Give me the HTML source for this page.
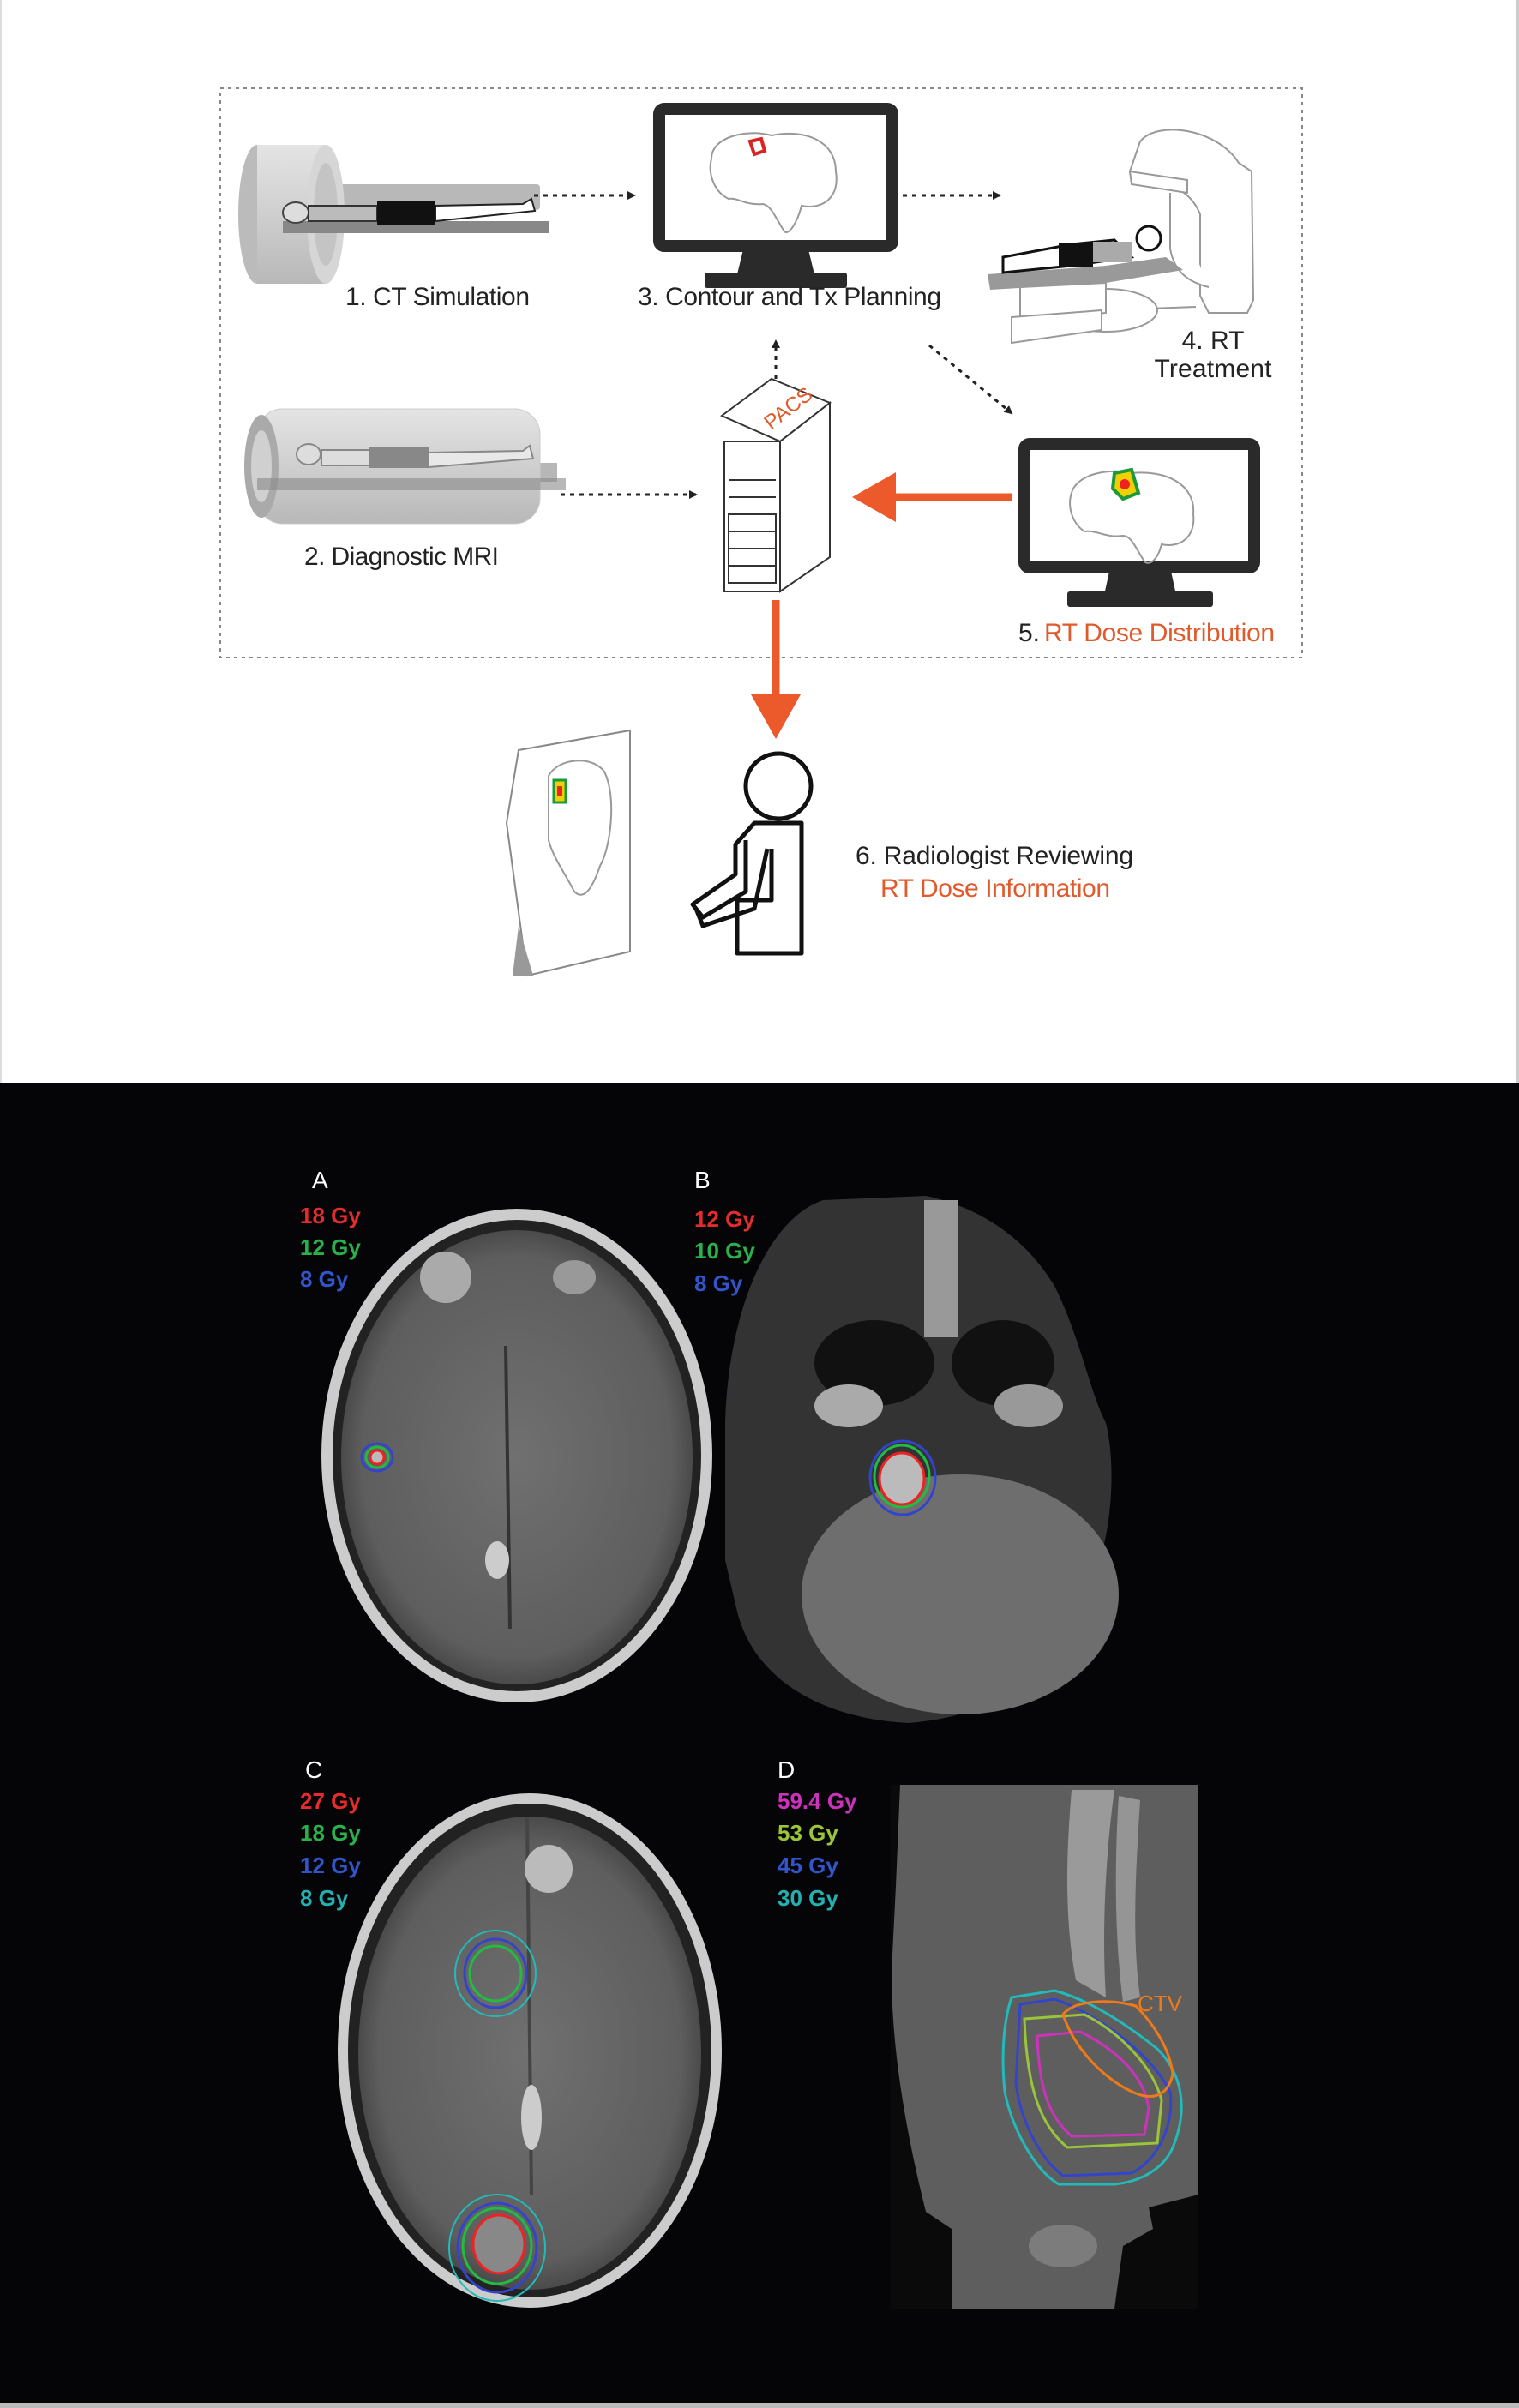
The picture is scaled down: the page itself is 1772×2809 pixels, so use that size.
<!DOCTYPE html>
<html><head><meta charset="utf-8"><style>
html,body{margin:0;padding:0;background:#fff}
svg{display:block}
text{font-family:"Liberation Sans Narrow","Liberation Sans",sans-serif}
</style></head><body>
<svg width="1772" height="2809" viewBox="0 0 1772 2809" xmlns="http://www.w3.org/2000/svg">
<defs>
<marker id="ah" markerWidth="10" markerHeight="10" refX="8" refY="5" orient="auto" markerUnits="userSpaceOnUse"><path d="M0,0 L20,5 L0,10 Z" fill="#222" transform="scale(0.5,1)"/></marker>
<radialGradient id="brain" cx="50%" cy="50%" r="55%"><stop offset="0" stop-color="#707070"/><stop offset="0.8" stop-color="#5e5e5e"/><stop offset="1" stop-color="#3a3a3a"/></radialGradient>
<linearGradient id="cyl" x1="0" y1="0" x2="0" y2="1"><stop offset="0" stop-color="#e4e4e4"/><stop offset="0.5" stop-color="#cfcfcf"/><stop offset="1" stop-color="#b8b8b8"/></linearGradient>
<linearGradient id="ct" x1="0" y1="0" x2="1" y2="0"><stop offset="0" stop-color="#5a5a5a"/><stop offset="0.5" stop-color="#9a9a9a"/><stop offset="1" stop-color="#5a5a5a"/></linearGradient>
</defs>
<rect width="1772" height="1263" fill="#fff"/>
<rect x="0" y="0" width="2" height="2809" fill="#ddd"/>
<rect x="1769" y="0" width="3" height="2809" fill="#ccc"/>

<rect x="257" y="103" width="1262" height="664" fill="none" stroke="#888" stroke-width="2" stroke-dasharray="4,5"/>

<!-- CT scanner -->
<rect x="300" y="215" width="330" height="30" rx="4" fill="#9a9a9a" opacity="0.7"/>
<ellipse cx="300" cy="250" rx="22" ry="81" fill="#bbb"/>
<rect x="300" y="169" width="80" height="162" fill="url(#cyl)"/>
<ellipse cx="380" cy="250" rx="22" ry="81" fill="#d6d6d6"/>
<ellipse cx="380" cy="250" rx="14" ry="60" fill="#c4c4c4"/>
<rect x="330" y="258" width="310" height="14" fill="#888"/>
<ellipse cx="345" cy="248" rx="15" ry="12" fill="#ddd" stroke="#444" stroke-width="2"/>
<rect x="360" y="240" width="80" height="18" fill="#bbb" stroke="#333" stroke-width="2"/>
<rect x="440" y="235" width="68" height="28" fill="#111"/>
<path d="M508,240 L610,238 L620,232 L624,246 L508,258 Z" fill="#fff" stroke="#222" stroke-width="2"/>
<text x="403" y="356" font-size="30" fill="#222" textLength="215">1. CT Simulation</text>

<line x1="623" y1="228" x2="740" y2="228" stroke="#222" stroke-width="3" stroke-dasharray="5,6" marker-end="url(#ah)"/>
<line x1="1053" y1="228" x2="1166" y2="228" stroke="#222" stroke-width="3" stroke-dasharray="5,6" marker-end="url(#ah)"/>
<line x1="654" y1="577" x2="812" y2="577" stroke="#222" stroke-width="3" stroke-dasharray="5,6" marker-end="url(#ah)"/>
<line x1="905" y1="475" x2="905" y2="398" stroke="#222" stroke-width="3" stroke-dasharray="5,6" marker-end="url(#ah)"/>
<line x1="1084" y1="403" x2="1180" y2="482" stroke="#222" stroke-width="3" stroke-dasharray="5,6" marker-end="url(#ah)"/>

<!-- Monitor 3 -->
<rect x="769" y="127" width="272" height="160" rx="6" fill="#fff" stroke="#2a2a2a" stroke-width="14"/>
<path d="M868,287 L942,287 L950,320 L860,320 Z" fill="#2a2a2a"/>
<rect x="822" y="318" width="166" height="18" rx="3" fill="#2a2a2a"/>
<path d="M830,185 C830,160 870,150 900,158 C940,150 975,165 975,200 C980,230 960,245 935,240 C930,260 920,275 915,270 C905,255 900,240 890,238 C870,240 860,230 850,232 C835,225 825,205 830,185 Z" fill="none" stroke="#999" stroke-width="2"/>
<path d="M875,165 L888,162 L892,176 L880,180 Z" fill="none" stroke="#d22" stroke-width="4"/>
<text x="744" y="356" font-size="30" fill="#222" textLength="354">3. Contour and Tx Planning</text>

<!-- Linac -->
<g fill="#fff" stroke="#999" stroke-width="2">
<path d="M1330,165 C1350,140 1420,150 1445,190 L1460,200 L1462,350 L1455,365 L1410,365 L1400,345 L1400,250 C1390,225 1370,215 1340,210 L1318,200 Z"/>
<path d="M1318,200 L1320,215 L1385,225 L1385,210 Z"/>
<path d="M1365,225 L1365,290 C1370,320 1390,330 1410,335"/>
<path d="M1335,348 L1340,360 L1395,358"/>
<ellipse cx="1290" cy="362" rx="60" ry="25"/>
<path d="M1190,335 L1290,330 L1290,365 L1190,375 Z"/>
<path d="M1180,370 L1285,362 L1285,385 L1180,400 Z"/>
</g>
<path d="M1152,320 L1290,310 L1360,300 L1380,315 L1290,330 L1155,338 Z" fill="#999"/>
<path d="M1170,300 L1250,285 L1300,280 L1320,300 L1250,310 L1170,318 Z" fill="#fff" stroke="#111" stroke-width="3"/>
<rect x="1235" y="284" width="40" height="28" fill="#111"/>
<rect x="1275" y="282" width="45" height="24" fill="#aaa"/>
<circle cx="1340" cy="278" r="14" fill="#fff" stroke="#111" stroke-width="3"/>
<text x="1415" y="407" font-size="30" fill="#222" text-anchor="middle">4. RT</text>
<text x="1415" y="440" font-size="30" fill="#222" text-anchor="middle" textLength="137">Treatment</text>

<!-- MRI -->
<rect x="300" y="540" width="350" height="22" fill="#999" opacity="0.7"/>
<rect x="300" y="477" width="330" height="134" rx="30" fill="url(#cyl)" stroke="#ccc"/>
<ellipse cx="305" cy="544" rx="20" ry="60" fill="#aaa"/>
<ellipse cx="305" cy="544" rx="12" ry="42" fill="#d0d0d0"/>
<ellipse cx="360" cy="530" rx="14" ry="12" fill="#ddd" stroke="#888" stroke-width="2"/>
<rect x="375" y="525" width="110" height="18" fill="#ddd" stroke="#888" stroke-width="2"/>
<rect x="430" y="522" width="70" height="24" fill="#888"/>
<path d="M500,528 L610,526 L618,520 L622,535 L500,545 Z" fill="#e8e8e8" stroke="#888" stroke-width="2"/>
<rect x="300" y="558" width="360" height="14" fill="#888" opacity="0.6"/>
<text x="355" y="659" font-size="30" fill="#222" textLength="227">2. Diagnostic MRI</text>

<!-- PACS -->
<g fill="#fff" stroke="#333" stroke-width="2">
<path d="M842,485 L900,442 L968,470 L910,515 Z"/>
<path d="M910,515 L968,470 L968,650 L910,690 Z"/>
<rect x="845" y="515" width="65" height="175"/>
<rect x="850" y="600" width="55" height="80"/>
<line x1="850" y1="560" x2="905" y2="560"/><line x1="850" y1="580" x2="905" y2="580"/>
<line x1="850" y1="620" x2="905" y2="620"/><line x1="850" y1="640" x2="905" y2="640"/><line x1="850" y1="660" x2="905" y2="660"/>
</g>
<text x="890" y="495" font-size="24" fill="#e05a2b" transform="rotate(-38 905 485)">PACS</text>

<line x1="1180" y1="580" x2="1030" y2="580" stroke="#ec5a2c" stroke-width="9"/>
<path d="M994,580 L1045,551 L1045,609 Z" fill="#ec5a2c"/>
<line x1="905" y1="700" x2="905" y2="820" stroke="#ec5a2c" stroke-width="9"/>
<path d="M905,862 L876,810 L934,810 Z" fill="#ec5a2c"/>

<!-- Monitor 5 -->
<rect x="1195" y="518" width="268" height="144" rx="6" fill="#fff" stroke="#2a2a2a" stroke-width="14"/>
<path d="M1295,662 L1365,662 L1372,694 L1288,694 Z" fill="#2a2a2a"/>
<rect x="1245" y="690" width="170" height="18" rx="3" fill="#2a2a2a"/>
<path d="M1250,575 C1255,555 1290,545 1320,552 C1360,548 1395,565 1392,600 C1395,625 1378,640 1355,635 C1350,655 1340,660 1335,655 C1325,640 1320,625 1310,625 C1290,628 1280,618 1265,620 C1250,610 1245,590 1250,575 Z" fill="none" stroke="#999" stroke-width="2"/>
<path d="M1300,552 L1320,548 L1328,575 L1310,582 L1298,570 Z" fill="#f0d000" stroke="#1a9a3a" stroke-width="4"/>
<circle cx="1312" cy="565" r="6" fill="#e22"/>
<text x="1188" y="748" font-size="30" fill="#222">5.</text>
<text x="1218" y="748" font-size="30" fill="#e05a2b" textLength="269">RT Dose Distribution</text>

<!-- sheet -->
<path d="M591,960 L605,875 L735,852 L735,1110 L615,1138 Z" fill="#fff" stroke="#888" stroke-width="2"/>
<path d="M605,1080 L622,1138 L598,1138 Z" fill="#999"/>
<path d="M640,905 C650,885 690,880 705,900 C720,930 712,990 700,1010 C690,1040 680,1050 670,1040 C660,1020 645,1000 640,980 Z" fill="none" stroke="#999" stroke-width="2"/>
<rect x="646" y="910" width="14" height="26" fill="#f0d000" stroke="#1a9a3a" stroke-width="3"/>
<rect x="650" y="917" width="6" height="12" fill="#e22"/>

<!-- person -->
<circle cx="908" cy="917" r="38" fill="#fff" stroke="#111" stroke-width="5"/>
<path d="M870,980 L870,1040 L820,1070 L808,1055 L858,1020 L858,985 L880,960 L935,960 L935,1112 L860,1112 L860,1050 L900,1050 L900,990" fill="none" stroke="#111" stroke-width="5" stroke-linejoin="round"/>
<path d="M895,990 L880,1060 L820,1080 L812,1060" fill="none" stroke="#111" stroke-width="5"/>
<text x="998" y="1008" font-size="30" fill="#222" textLength="324">6. Radiologist Reviewing</text>
<text x="1027" y="1046" font-size="30" fill="#e05a2b" textLength="268">RT Dose Information</text>

<!-- Black bottom -->
<rect x="0" y="1263" width="1772" height="1540" fill="#050508"/>
<rect x="0" y="2803" width="1772" height="6" fill="#bbb"/>

<!-- A -->
<ellipse cx="603" cy="1698" rx="228" ry="288" fill="#ccc"/>
<ellipse cx="603" cy="1698" rx="215" ry="275" fill="#222"/>
<ellipse cx="603" cy="1700" rx="205" ry="265" fill="url(#brain)"/>
<path d="M590,1570 L595,1900" stroke="#333" stroke-width="4"/>
<ellipse cx="580" cy="1820" rx="14" ry="22" fill="#ccc"/>
<ellipse cx="520" cy="1490" rx="30" ry="30" fill="#aaa"/>
<ellipse cx="670" cy="1490" rx="25" ry="20" fill="#999"/>
<ellipse cx="440" cy="1700" rx="18" ry="16" fill="none" stroke="#3344cc" stroke-width="3"/>
<ellipse cx="440" cy="1700" rx="13" ry="12" fill="none" stroke="#22bb44" stroke-width="3"/>
<ellipse cx="440" cy="1700" rx="8" ry="8" fill="#bbb" stroke="#e22" stroke-width="3"/>
<text x="364" y="1386" font-size="28" fill="#fff">A</text>
<text x="350" y="1427" font-size="26" font-weight="bold" fill="#e52b2b">18 Gy</text>
<text x="350" y="1464" font-size="26" font-weight="bold" fill="#2ab24a">12 Gy</text>
<text x="350" y="1501" font-size="26" font-weight="bold" fill="#3355cc">8 Gy</text>

<!-- B -->
<path d="M846,1660 C850,1520 900,1420 960,1400 L1080,1395 C1150,1410 1200,1450 1230,1500 C1260,1560 1270,1620 1290,1660 C1300,1700 1300,1770 1280,1830 C1250,1940 1180,2000 1060,2010 C960,2005 880,1960 860,1880 L846,1820 Z" fill="#333"/>
<ellipse cx="1120" cy="1860" rx="185" ry="140" fill="#6e6e6e"/>
<ellipse cx="1020" cy="1590" rx="70" ry="50" fill="#111"/>
<ellipse cx="1170" cy="1590" rx="60" ry="50" fill="#111"/>
<rect x="1078" y="1400" width="40" height="160" fill="#999"/>
<ellipse cx="990" cy="1640" rx="40" ry="25" fill="#aaa"/>
<ellipse cx="1200" cy="1640" rx="40" ry="25" fill="#999"/>
<ellipse cx="1053" cy="1724" rx="38" ry="43" fill="none" stroke="#3344cc" stroke-width="3"/>
<ellipse cx="1052" cy="1722" rx="32" ry="36" fill="none" stroke="#22bb44" stroke-width="3"/>
<ellipse cx="1052" cy="1725" rx="26" ry="30" fill="#bbb" stroke="#e22" stroke-width="3"/>
<text x="810" y="1386" font-size="28" fill="#fff">B</text>
<text x="810" y="1431" font-size="26" font-weight="bold" fill="#e52b2b">12 Gy</text>
<text x="810" y="1468" font-size="26" font-weight="bold" fill="#2ab24a">10 Gy</text>
<text x="810" y="1506" font-size="26" font-weight="bold" fill="#3355cc">8 Gy</text>

<!-- C -->
<ellipse cx="618" cy="2392" rx="224" ry="300" fill="#ccc"/>
<ellipse cx="618" cy="2392" rx="212" ry="288" fill="#222"/>
<ellipse cx="618" cy="2395" rx="200" ry="276" fill="url(#brain)"/>
<path d="M615,2120 L620,2560" stroke="#444" stroke-width="4"/>
<ellipse cx="620" cy="2470" rx="12" ry="38" fill="#ccc"/>
<ellipse cx="640" cy="2180" rx="28" ry="28" fill="#bbb"/>
<ellipse cx="578" cy="2302" rx="47" ry="50" fill="none" stroke="#22bbbb" stroke-width="2"/>
<ellipse cx="578" cy="2302" rx="36" ry="40" fill="none" stroke="#3344cc" stroke-width="3"/>
<ellipse cx="578" cy="2302" rx="30" ry="32" fill="none" stroke="#22bb44" stroke-width="3"/>
<ellipse cx="580" cy="2622" rx="56" ry="62" fill="none" stroke="#22bbbb" stroke-width="2"/>
<ellipse cx="580" cy="2622" rx="46" ry="52" fill="none" stroke="#3344cc" stroke-width="3"/>
<ellipse cx="580" cy="2620" rx="40" ry="44" fill="none" stroke="#22bb44" stroke-width="3"/>
<ellipse cx="582" cy="2618" rx="30" ry="34" fill="#888" stroke="#e22" stroke-width="3"/>
<text x="356" y="2074" font-size="28" fill="#fff">C</text>
<text x="350" y="2110" font-size="26" font-weight="bold" fill="#e52b2b">27 Gy</text>
<text x="350" y="2147" font-size="26" font-weight="bold" fill="#2ab24a">18 Gy</text>
<text x="350" y="2185" font-size="26" font-weight="bold" fill="#3355cc">12 Gy</text>
<text x="350" y="2223" font-size="26" font-weight="bold" fill="#22b0b0">8 Gy</text>

<!-- D -->
<rect x="1039" y="2082" width="359" height="611" fill="#0a0a0a"/>
<path d="M1050,2082 L1398,2082 L1398,2560 L1340,2575 L1345,2600 L1310,2620 L1300,2693 L1110,2693 L1110,2600 L1080,2580 C1060,2500 1040,2400 1040,2300 L1045,2200 Z" fill="#5e5e5e"/>
<path d="M1250,2088 C1245,2150 1240,2230 1255,2310 L1290,2330 C1285,2250 1290,2160 1300,2088 Z" fill="#9a9a9a"/>
<path d="M1305,2095 L1330,2100 C1325,2180 1320,2260 1330,2330 L1310,2335 C1300,2260 1300,2170 1305,2095 Z" fill="#bbb" opacity="0.6"/>
<ellipse cx="1240" cy="2620" rx="40" ry="25" fill="#999" opacity="0.5"/>
<path d="M1180,2330 L1230,2322 C1260,2330 1300,2350 1350,2390 C1380,2420 1385,2460 1370,2500 C1360,2530 1330,2545 1300,2548 L1235,2548 C1205,2530 1180,2480 1172,2440 C1168,2400 1170,2360 1180,2330 Z" fill="none" stroke="#22bbbb" stroke-width="3"/>
<path d="M1190,2338 L1230,2332 C1270,2345 1340,2390 1365,2440 C1370,2480 1350,2520 1320,2535 L1240,2538 C1210,2515 1190,2470 1185,2430 Z" fill="none" stroke="#3344cc" stroke-width="3"/>
<path d="M1195,2355 L1265,2350 C1305,2370 1345,2410 1355,2450 L1350,2500 L1245,2505 C1215,2480 1198,2440 1195,2355 Z" fill="none" stroke="#9ac43a" stroke-width="3"/>
<path d="M1210,2375 L1260,2370 C1300,2390 1335,2420 1340,2460 L1335,2490 L1250,2492 C1225,2470 1212,2440 1210,2375 Z" fill="none" stroke="#cc33bb" stroke-width="3"/>
<path d="M1240,2350 C1250,2335 1290,2330 1325,2340 C1345,2360 1365,2390 1368,2420 C1362,2445 1345,2450 1325,2442 C1295,2430 1255,2395 1240,2350 Z" fill="none" stroke="#f07a1a" stroke-width="3"/>
<text x="1327" y="2346" font-size="26" fill="#f07a1a">CTV</text>
<text x="907" y="2074" font-size="28" fill="#fff">D</text>
<text x="907" y="2110" font-size="26" font-weight="bold" fill="#cc33bb">59.4 Gy</text>
<text x="907" y="2147" font-size="26" font-weight="bold" fill="#9ac43a">53 Gy</text>
<text x="907" y="2185" font-size="26" font-weight="bold" fill="#3355cc">45 Gy</text>
<text x="907" y="2223" font-size="26" font-weight="bold" fill="#22b0b0">30 Gy</text>
</svg>
</body></html>
